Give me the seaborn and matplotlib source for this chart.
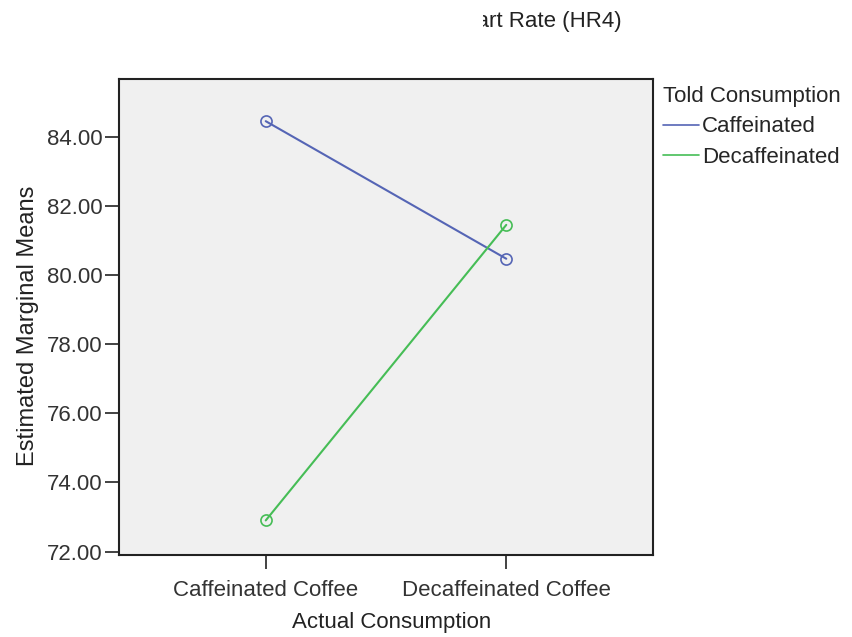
import matplotlib
matplotlib.use("Agg")
import matplotlib.pyplot as plt
import pandas as pd
import seaborn as sns
from matplotlib.lines import Line2D
from matplotlib.transforms import Bbox, TransformedBbox

# data
actual = ["Caffeinated Coffee", "Decaffeinated Coffee"]
told_groups = ["Caffeinated", "Decaffeinated"]
means_told_caff = [84.45, 80.47]
means_told_decaf = [72.90, 81.45]
y_ticks = [72, 74, 76, 78, 80, 82, 84]

colors = {"Caffeinated": "#5565b5", "Decaffeinated": "#46bd56"}

df = pd.DataFrame({
    "Actual Consumption": actual * 2,
    "Told Consumption": [told_groups[0]] * 2 + [told_groups[1]] * 2,
    "Mean": means_told_caff + means_told_decaf,
})

sns.set_style("white")
plt.rcParams["font.family"] = ["Liberation Sans", "DejaVu Sans"]
FS = 16

fig = plt.figure(figsize=(8.52, 6.37), dpi=100)
ax = fig.add_axes([119 / 852, 1 - 555 / 637, 534 / 852, 476 / 637])
ax.set_facecolor("#f0f0f0")

sns.pointplot(data=df, x="Actual Consumption", y="Mean", hue="Told Consumption",
              hue_order=told_groups, order=actual, palette=colors,
              markers="o", markersize=8, markerfacecolor="none",
              markeredgewidth=1.2, linewidth=1.5, errorbar=None,
              legend=False, ax=ax)

ax.set_xlim(-0.61, 1.61)
ax.set_ylim(71.9, 85.67)
ax.set_yticks(y_ticks)
ax.set_yticklabels([f"{t:.2f}" for t in y_ticks])
ax.tick_params(axis="both", direction="out", length=10, width=1.2,
               colors="#222222", labelsize=FS, labelcolor="#333333", left=True, bottom=True)
ax.tick_params(axis="x", pad=8)
ax.tick_params(axis="y", pad=2)
for s in ax.spines.values():
    s.set_visible(True)
    s.set_color("#222222")
    s.set_linewidth(1.5)

ax.set_xlabel("Actual Consumption", fontsize=FS, color="#222222", va="center")
ax.xaxis.set_label_coords(0.511, -0.141)
ax.set_ylabel("Estimated Marginal Means", fontsize=17, color="#222222", va="center")
ax.yaxis.set_label_coords(-0.171, 0.481)

handles = [Line2D([0], [0], color=colors[g], lw=1.2) for g in told_groups]
leg = fig.legend(handles, told_groups, title="Told Consumption", loc="upper left",
                 bbox_to_anchor=(663 / 852, 1 - 86 / 637), frameon=False,
                 fontsize=FS, title_fontsize=FS, handlelength=1.6, handletextpad=0.15,
                 borderaxespad=0, borderpad=0, labelspacing=0.42)
leg._legend_box.align = "left"

# title is cut off on the left in the original
title = fig.text(622 / 852, 1 - 21 / 637, "Estimated Marginal Means of Heart Rate (HR4)",
                 ha="right", va="center", fontsize=FS, color="#222222")
title.set_clip_box(TransformedBbox(Bbox([[483 / 852, 0], [1, 1]]), fig.transFigure))
title.set_clip_on(True)

fig.savefig("out.png", dpi=100)
